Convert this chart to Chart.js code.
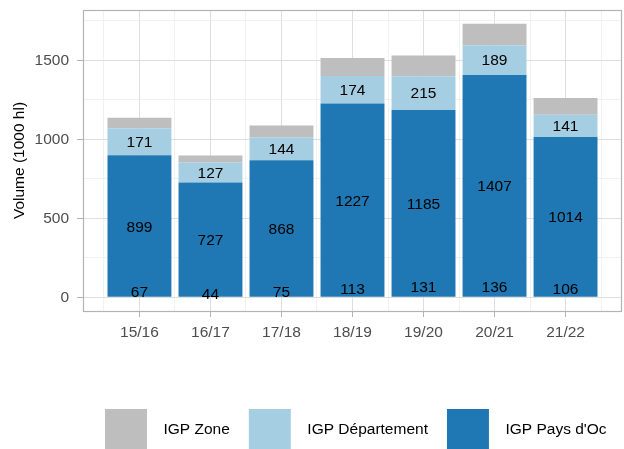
<!DOCTYPE html>
<html lang="fr">
<head>
    <meta charset="UTF-8">
    <title>Volumes IGP</title>
    <script src="https://cdn.jsdelivr.net/npm/chart.js"></script>
    <style>
        html, body { margin: 0; padding: 0; background: #ffffff; }
        #chart { display: block; }
    </style>
</head>
<body>
<canvas id="chart" width="624" height="449"></canvas>
<script>
    // campagnes
    const campagnes = ["15/16", "16/17", "17/18", "18/19", "19/20", "20/21", "21/22"];
    // volumes en 1000 hl
    const paysOc = [899, 727, 868, 1227, 1185, 1407, 1014];
    const departement = [171, 127, 144, 174, 215, 189, 141];
    const zone = [67, 44, 75, 113, 131, 136, 106];
    const yTicks = [0, 250, 500, 750, 1000, 1250, 1500, 1750];
    const xTicks = [-0.5, 0, 0.5, 1, 1.5, 2, 2.5, 3, 3.5, 4, 4.5, 5, 5.5, 6, 6.5];

    const FONT = "'Liberation Sans', Arial, sans-serif";
    const FS = 15.5;

    function toPoints(arr) {
        return arr.map((v, i) => ({ x: i, y: v }));
    }

    const total = paysOc.map((v, i) => v + departement[i] + zone[i]);
    const maxTotal = Math.max(...total);

    // majeur / mineur
    const isMajorX = c => !!c.tick && Number.isInteger(c.tick.value);
    const isMajorY = c => !!c.tick && c.tick.value % 500 === 0;

    // bordure du panneau, étiquettes et légende
    const extras = {
        id: 'extras',
        afterDatasetsDraw(chart) {
            const ctx = chart.ctx;
            const x = chart.scales.x, y = chart.scales.y;
            ctx.save();
            ctx.fillStyle = '#000000';
            ctx.font = FS + 'px ' + FONT;
            ctx.textAlign = 'center';
            ctx.textBaseline = 'middle';
            for (let i = 0; i < campagnes.length; i++) {
                const px = x.getPixelForValue(i);
                ctx.fillText(String(paysOc[i]), px, y.getPixelForValue(paysOc[i] / 2) + 1);
                ctx.fillText(String(departement[i]), px, y.getPixelForValue(paysOc[i] + departement[i] / 2) + 1);
                ctx.fillText(String(zone[i]), px, y.getPixelForValue(zone[i] / 2) + 1);
            }
            const a = chart.chartArea;
            ctx.strokeStyle = '#B3B3B3';
            ctx.lineWidth = 1.2;
            ctx.strokeRect(a.left + 0.5, a.top + 0.5, a.right - a.left - 1, a.bottom - a.top);
            ctx.restore();
        },
        afterDraw(chart) {
            const ctx = chart.ctx;
            ctx.save();
            ctx.font = FS + 'px ' + FONT;
            ctx.textBaseline = 'middle';
            ctx.textAlign = 'left';
            let cx = 105;
            const top = 409;
            const ds = chart.data.datasets.slice().reverse();
            ds.forEach(d => {
                ctx.fillStyle = d.backgroundColor;
                ctx.fillRect(cx, top, 42, 42);
                cx += 42 + 16.5;
                ctx.fillStyle = '#000000';
                ctx.fillText(d.label, cx, top + 20.5);
                cx += ctx.measureText(d.label).width + 19;
            });
            ctx.restore();
        }
    };

    new Chart(document.getElementById('chart'), {
        type: 'bar',
        data: {
            datasets: [
                { label: "IGP Pays d'Oc", data: toPoints(paysOc), backgroundColor: '#1F78B4' },
                { label: 'IGP Département', data: toPoints(departement), backgroundColor: '#A6CEE3' },
                { label: 'IGP Zone', data: toPoints(zone), backgroundColor: '#BEBEBE' }
            ]
        },
        options: {
            responsive: false,
            animation: false,
            devicePixelRatio: 1,
            // l'écart minimal vu par Chart.js est celui des graduations (0.5)
            categoryPercentage: 0.9,
            barPercentage: 2,
            layout: { padding: { top: 10, right: 2, left: 0, bottom: 108 } },
            plugins: {
                legend: { display: false },
                tooltip: { enabled: false }
            },
            scales: {
                x: {
                    type: 'linear',
                    stacked: true,
                    offset: false,
                    min: -0.795,
                    max: 6.795,
                    afterFit: s => { s.height = 30; s.paddingLeft = 0; s.paddingRight = 0; },
                    afterBuildTicks: s => { s.ticks = xTicks.map(v => ({ value: v })); },
                    border: { display: false, width: 1, color: '#B3B3B3' },
                    grid: {
                        offset: false,
                        color: c => isMajorX(c) ? '#DEDEDE' : '#EEEEEE',
                        lineWidth: c => isMajorX(c) ? 1 : 0.8,
                        tickColor: c => isMajorX(c) ? '#B3B3B3' : 'rgba(0,0,0,0)',
                        tickLength: 6,
                        tickWidth: 1
                    },
                    ticks: {
                        autoSkip: false,
                        maxRotation: 0,
                        padding: 6,
                        color: '#4D4D4D',
                        font: { family: FONT, size: FS },
                        callback: v => Number.isInteger(v) ? campagnes[v] : ''
                    }
                },
                y: {
                    stacked: true,
                    min: -0.05 * maxTotal,
                    max: 1.05 * maxTotal,
                    afterFit: s => { s.width = 83; s.paddingTop = 0; s.paddingBottom = 0; },
                    afterBuildTicks: s => { s.ticks = yTicks.map(v => ({ value: v })); },
                    border: { display: false, width: 1, color: '#B3B3B3' },
                    grid: {
                        color: c => isMajorY(c) ? '#DEDEDE' : '#EEEEEE',
                        lineWidth: c => isMajorY(c) ? 1 : 0.8,
                        tickColor: c => isMajorY(c) ? '#B3B3B3' : 'rgba(0,0,0,0)',
                        tickLength: 6,
                        tickWidth: 1
                    },
                    ticks: {
                        padding: 8,
                        color: '#4D4D4D',
                        font: { family: FONT, size: FS },
                        callback: v => v % 500 === 0 ? String(v) : ''
                    },
                    title: {
                        display: true,
                        text: 'Volume (1000 hl)',
                        color: '#000000',
                        padding: { top: 10, bottom: 0 },
                        font: { family: FONT, size: FS }
                    }
                }
            }
        },
        plugins: [extras]
    });
</script>
</body>
</html>
